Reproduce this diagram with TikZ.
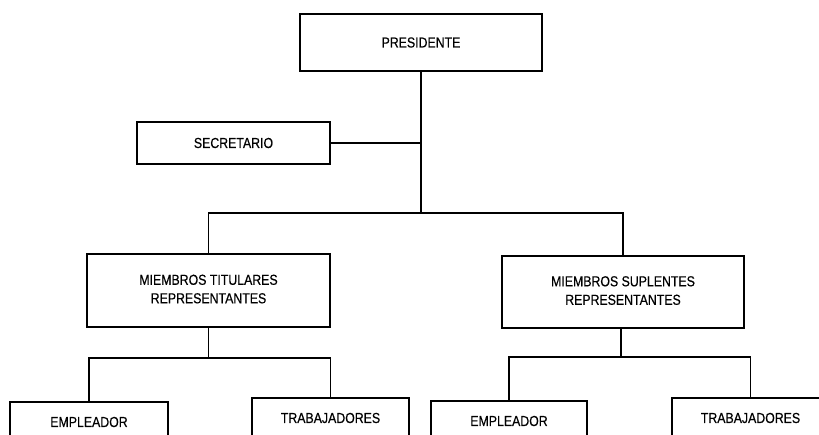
\documentclass[tikz,border=0pt]{standalone}
\usepackage{fontspec}
\setmainfont{Liberation Sans}[FakeStretch=0.85,FakeBold=0.4]
\begin{document}
\begin{tikzpicture}[x=1pt,y=-1pt,
  box/.style={draw=black,line width=1.4pt,fill=white,align=center,inner sep=0pt,
    font=\fontsize{14.5}{18.5}\selectfont},
  conn/.style={draw=black,line width=1.3pt}]
\useasboundingbox (0,0) rectangle (819,435);
\clip (0,0) rectangle (819,435);
\fill[white] (0,0) rectangle (819,435);
% boxes
\node[box,minimum width=242pt,minimum height=57pt] (pres) at (421,42.5) {PRESIDENTE};
\node[box,minimum width=193pt,minimum height=42pt] (sec) at (233.5,143) {SECRETARIO};
\node[box,minimum width=243pt,minimum height=73pt,text depth=3pt] (mt) at (208.5,290.5) {MIEMBROS TITULARES\\REPRESENTANTES};
\node[box,minimum width=242pt,minimum height=72pt,text depth=3pt] (ms) at (623,292) {MIEMBROS SUPLENTES\\REPRESENTANTES};
\node[box,minimum width=158pt,minimum height=40pt] (el) at (89,422) {EMPLEADOR};
\node[box,minimum width=157pt,minimum height=40pt] (tl) at (330.5,418) {TRABAJADORES};
\node[box,minimum width=156pt,minimum height=40pt] (er) at (509,421) {EMPLEADOR};
\node[box,minimum width=157pt,minimum height=40pt] (tr) at (750.5,418) {TRABAJADORES};
% junctions
\coordinate (j1) at (421,213);
\coordinate (j2) at (208.5,358);
\coordinate (j3) at (621,357);
% connectors
\draw[conn] (pres.south) -- (j1);
\draw[conn] (sec.east) -- (sec.east -| j1);
\draw[conn] (mt.north) |- (j1) -| (ms.north);
\draw[conn] (mt.south) -- (j2);
\draw[conn] (el.north) |- (j2) -| (tl.north);
\draw[conn] (ms.south -| j3) -- (j3);
\draw[conn] (er.north) |- (j3) -| (tr.north);
\end{tikzpicture}
\end{document}
